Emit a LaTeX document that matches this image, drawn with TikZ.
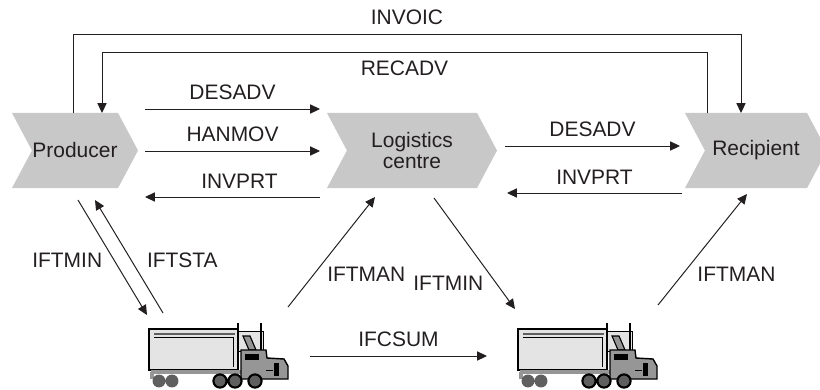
\documentclass[tikz,border=0pt]{standalone}
\usepackage{fontspec}
\setmainfont{Liberation Sans}
\usetikzlibrary{arrows.meta, shapes.symbols}
\definecolor{boxgray}{RGB}{200, 200, 200}
\definecolor{inkgray}{RGB}{35, 31, 32}
\definecolor{trailergray}{RGB}{228, 228, 228}
\definecolor{cabgray}{RGB}{150, 150, 150}
\definecolor{wheelgray}{RGB}{95, 95, 95}

% lorry, drawn from the top left corner of its trailer
\tikzset{
  lorry/.pic={
    % fairing behind the cab
    \filldraw[fill=trailergray, draw=black, line width=0.5pt] (80,2) rectangle (114,22);
    % trailer
    \filldraw[fill=trailergray, draw=black, line width=1.3pt] (0,0) rectangle (89,41);
    \draw[wheelgray, line width=1.6pt] (5,5) -- (86,5);
    \draw[black, line width=0.4pt] (5,8) -- (84,8) -- (84,38);
    % chassis and mud flap
    \fill[cabgray] (2,41) rectangle (95,45);
    \fill[cabgray] (1,43) rectangle (5,50);
    % trailer wheels
    \fill[wheelgray] (10,52) circle (4.6pt) (23,52) circle (4.6pt);
    % exhaust stacks
    \draw[line width=1.2pt] (89,-6) -- (89,22) (112,-6) -- (112,28);
    % windshield
    \filldraw[fill=cabgray, draw=black, line width=0.8pt] (94,7) -- (101,7) -- (107,21) -- (100,21) -- cycle;
    % cab
    \filldraw[fill=cabgray, draw=black, line width=1pt] (92,21) -- (117,21) -- (118,29) -- (135,30) -- (139,37) -- (139,50) -- (92,50) -- cycle;
    \fill[black] (96,25) rectangle (110,31);
    \fill[black] (125,34) rectangle (130,47);
    \draw[black, line width=0.6pt] (117,41) -- (124,41);
    % drive wheels
    \filldraw[fill=wheelgray, draw=black, line width=1.5pt] (71,52) circle (4.7pt) (86,52) circle (4.7pt) (106,52) circle (4.7pt);
  }
}

\begin{document}
\begin{tikzpicture}[x=0.025cm, y=-0.025cm,
    station/.style={signal, signal from=west, signal to=east, signal pointer angle=124,
      fill=boxgray, text=inkgray, minimum height=1.875cm, inner sep=0pt, align=center,
      font=\fontsize{14.9}{15.6}\selectfont},
    msg/.style={draw=inkgray, line width=0.7pt, -{Triangle[length=7pt, width=6.5pt]}},
    lbl/.style={text=inkgray, font=\fontsize{14.9}{16}\selectfont, inner sep=2pt}]
    \useasboundingbox (0,0) rectangle (820,389);

    % parties
    \node[station, minimum width=3.15cm] (prod) at (75,150.5) {Producer};
    \node[station, minimum width=4.25cm] (log) at (412,150.5) {Logistics\\centre};
    \node[station, minimum width=3.55cm] (rec) at (756,150.5) {Recipient};

    % lorries
    \coordinate (truckA) at (149,329);
    \coordinate (truckB) at (518,329);
    \pic at (truckA) {lorry};
    \pic at (truckB) {lorry};

    % invoice and receiving advice over the top
    \draw[msg] ([shift={(-2,-37.5)}]prod.center) -- ++(0,-79)
        -| node[lbl, above=4pt, pos=0.25] {INVOIC} ([shift={(-15,-37.5)}]rec.center);
    \draw[msg] ([shift={(-49,-37.5)}]rec.center) -- ++(0,-61)
        -| node[lbl, below=4pt, pos=0.25] {RECADV} ([shift={(27,-37.5)}]prod.center);

    % producer <-> logistics centre
    \draw[msg] ([shift={(70,-41.5)}]prod.center) -- node[lbl, above=4pt] {DESADV} ([shift={(-92,-41.5)}]log.center);
    \draw[msg] ([shift={(70,0.5)}]prod.center) -- node[lbl, above=4pt] {HANMOV} ([shift={(-92,0.5)}]log.center);
    \draw[msg] ([shift={(-92,46.5)}]log.center) -- node[lbl, above=4pt, pos=0.46] {INVPRT} ([shift={(70,46.5)}]prod.center);

    % logistics centre <-> recipient
    \draw[msg] ([shift={(93,-4.5)}]log.center) -- node[lbl, above=4pt] {DESADV} ([shift={(-76,-4.5)}]rec.center);
    \draw[msg] ([shift={(-74,42.5)}]rec.center) -- node[lbl, above=4pt] {INVPRT} ([shift={(95,42.5)}]log.center);

    % transport messages
    \draw[msg] ([shift={(3,49.5)}]prod.center) -- node[lbl, left=6pt, pos=0.52] {IFTMIN} ([shift={(-2,-14)}]truckA);
    \draw[msg] ([shift={(14,-16)}]truckA) -- node[lbl, right=9pt, pos=0.47] {IFTSTA} ([shift={(20,49.5)}]prod.center);
    \draw[msg] ([shift={(139,-22)}]truckA) -- node[lbl, right=7pt, pos=0.3] {IFTMAN} ([shift={(-37,46.5)}]log.center);
    \draw[msg] ([shift={(22,47.5)}]log.center) -- node[lbl, left=7pt, pos=0.77] {IFTMIN} ([shift={(-3,-20)}]truckB);
    \draw[msg] ([shift={(140,-24)}]truckB) -- node[lbl, right=8pt, pos=0.28] {IFTMAN} ([shift={(-9,43.5)}]rec.center);
    \draw[msg] ([shift={(161,27)}]truckA) -- node[lbl, above=4pt] {IFCSUM} ([shift={(-31,27)}]truckB);
\end{tikzpicture}
\end{document}
